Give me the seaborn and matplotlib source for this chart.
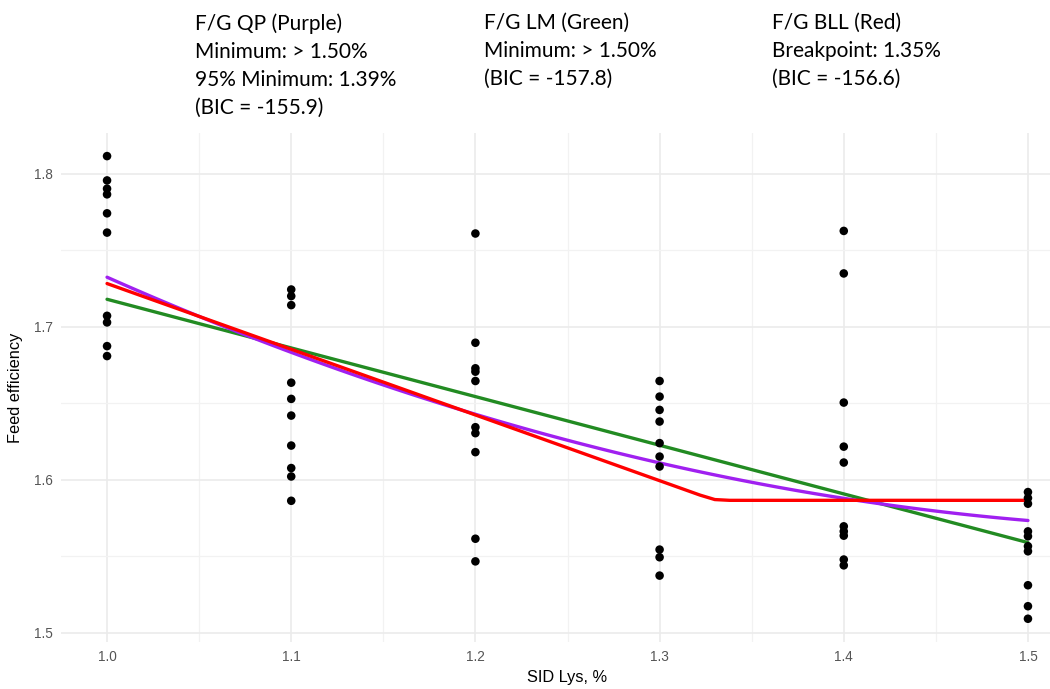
import numpy as np
import pandas as pd
import matplotlib
matplotlib.use("Agg")
import matplotlib.pyplot as plt
import seaborn as sns
from matplotlib.ticker import MultipleLocator

# -------------------------------
# Data
# -------------------------------
lys_levels = [1.0, 1.1, 1.2, 1.3, 1.4, 1.5]

fe_100 = [1.8115, 1.7956, 1.7902, 1.7865, 1.7741, 1.7615, 1.7071, 1.7028, 1.6873, 1.6808]
fe_110 = [1.7243, 1.7200, 1.7141, 1.6634, 1.6528, 1.6419, 1.6223, 1.6076, 1.6021, 1.5862]
fe_120 = [1.7609, 1.6895, 1.6728, 1.6706, 1.6645, 1.6343, 1.6304, 1.6180, 1.5614, 1.5466]
fe_130 = [1.6645, 1.6543, 1.6456, 1.6380, 1.6239, 1.6151, 1.6086, 1.5543, 1.5493, 1.5373]
fe_140 = [1.7626, 1.7348, 1.6504, 1.6216, 1.6112, 1.5695, 1.5662, 1.5634, 1.5478, 1.5440]
fe_150 = [1.5919, 1.5880, 1.5843, 1.5662, 1.5630, 1.5565, 1.5532, 1.5310, 1.5173, 1.5091]

# broken-line (BLL) fit
bll_x = [1.0, 1.322, 1.330, 1.338, 1.5]
bll_y = [1.7282, 1.5899, 1.5870, 1.5865, 1.5865]

labels_qp = ["F/G QP (Purple)", "Minimum: > 1.50%", "95% Minimum: 1.39%", "(BIC = -155.9)"]
labels_lm = ["F/G LM (Green)", "Minimum: > 1.50%", "(BIC = -157.8)"]
labels_bll = ["F/G BLL (Red)", "Breakpoint: 1.35%", "(BIC = -156.6)"]

groups = [fe_100, fe_110, fe_120, fe_130, fe_140, fe_150]
df = pd.DataFrame({
    "lys": np.repeat(lys_levels, [len(g) for g in groups]),
    "fe": np.concatenate(groups),
})

# -------------------------------
# Plot
# -------------------------------
sns.set_theme(style="white")
plt.rcParams["font.family"] = ["Liberation Sans", "DejaVu Sans"]

W, H = 1050, 689
fig = plt.figure(figsize=(W / 100, H / 100), dpi=100)
ax = fig.add_axes([61 / W, (H - 642) / H, (1074 - 61) / W, (642 - 133) / H])

ax.xaxis.set_major_locator(MultipleLocator(0.1))
ax.xaxis.set_minor_locator(MultipleLocator(0.05))
ax.yaxis.set_major_locator(MultipleLocator(0.1))
ax.yaxis.set_minor_locator(MultipleLocator(0.05))
ax.grid(which="major", color="#EBEBEB", lw=1.2)
ax.grid(which="minor", color="#F2F2F2", lw=0.9)
ax.set_axisbelow(True)
for s in ax.spines.values():
    s.set_visible(False)
ax.tick_params(which="both", length=0, labelsize=9.8, labelcolor="#555555", pad=6)

# fitted lines
sns.regplot(data=df, x="lys", y="fe", order=1, ci=None, scatter=False, ax=ax,
            line_kws=dict(color="#228B22", lw=2.4, zorder=2))
sns.regplot(data=df, x="lys", y="fe", order=2, ci=None, scatter=False, ax=ax,
            line_kws=dict(color="#A020F0", lw=2.4, zorder=3))
ax.plot(bll_x, bll_y, color="#FF0000", lw=2.4, zorder=4, solid_joinstyle="round")

sns.scatterplot(data=df, x="lys", y="fe", color="black", s=38, edgecolor="none",
                ax=ax, zorder=5)

ax.set_xlim(0.975, 1.525)
ax.set_ylim(1.4939, 1.8266)
ax.set_xticks(lys_levels)
ax.set_xticklabels([f"{v:.1f}" for v in lys_levels])
ax.set_xlabel("SID Lys, %", fontsize=11.8, color="black", labelpad=4)
ax.set_ylabel("Feed efficiency", fontsize=11.8, color="black", labelpad=8)

# annotation blocks above the panel
for x0, lines in [(195, labels_qp), (484, labels_lm), (772, labels_bll)]:
    fig.text(x0 / W, 1 - 13 / H, "\n".join(lines), ha="left", va="top",
             fontsize=15, family=["Lato", "DejaVu Sans"], color="black",
             linespacing=1.5)

fig.savefig("out.png", dpi=100)
